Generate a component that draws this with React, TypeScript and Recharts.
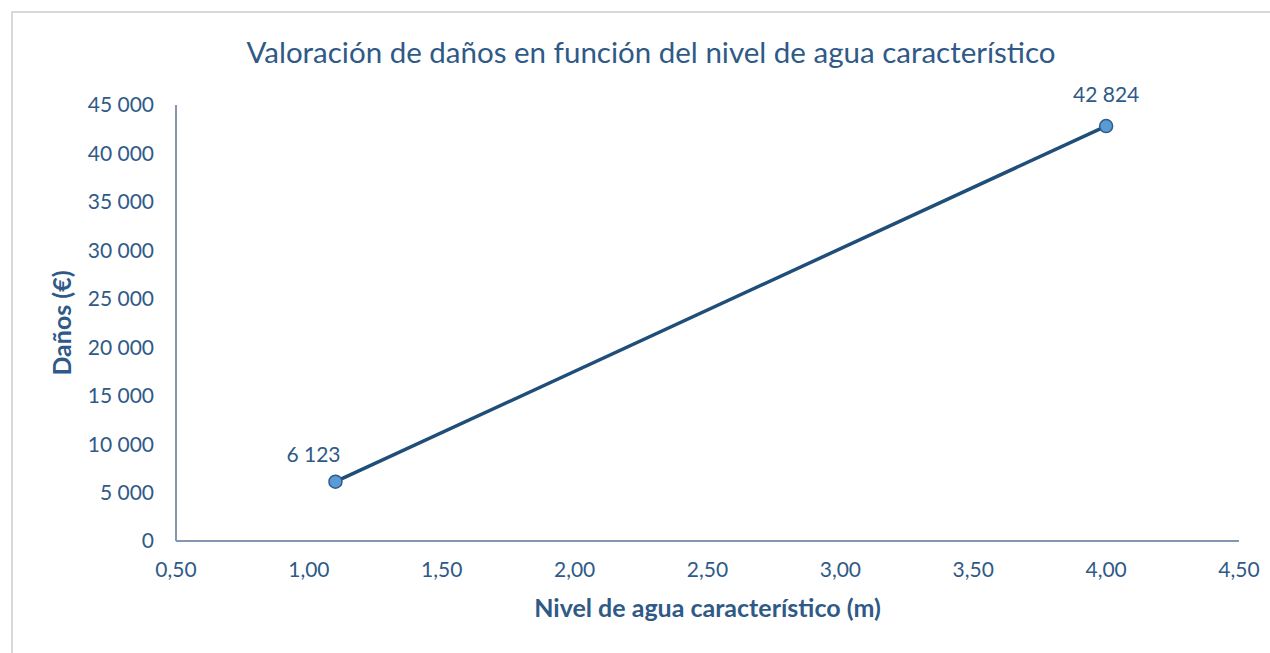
import { LineChart, Line, XAxis, YAxis, LabelList } from "recharts";

const levels = [1.1, 4.0];
const damages = [6123, 42824];
const xTicks = [0.5, 1, 1.5, 2, 2.5, 3, 3.5, 4, 4.5];
const yTicks = [0, 5000, 10000, 15000, 20000, 25000, 30000, 35000, 40000, 45000];

const TEXT = "#2F5A87";
const AXIS = "#8497B0";
const FONT = "Lato, 'Open Sans', sans-serif";

const data = levels.map((x, i) => ({ x, y: damages[i] }));

const fmtThousands = (v: number) => String(Math.round(v)).replace(/\B(?=(\d{3})+(?!\d))/g, " ");
const fmtX = (v: number) => v.toFixed(2).replace(".", ",");

// Excel nudged the first label to the left of its marker
const labelDx = [-22, 0];
const labelDy = [-28, -33];

function PointLabel(props: any) {
  const { x, y, value, index } = props;
  return (
    <text
      x={x + (labelDx[index] || 0)}
      y={y + (labelDy[index] || -30)}
      textAnchor="middle"
      dominantBaseline="central"
      fill={TEXT}
      fontSize={21}
      fontFamily={FONT}
    >
      {fmtThousands(value)}
    </text>
  );
}

export default function App() {
  return (
    <div style={{ position: "absolute", left: 0, top: 0, width: 1270, height: 653, background: "#fff", overflow: "hidden" }}>
      <div
        style={{
          position: "absolute",
          left: 11,
          top: 11,
          width: 1300,
          height: 700,
          border: "2px solid #D9D9D9",
        }}
      />
      <div
        style={{
          position: "absolute",
          left: 0,
          width: 1302,
          top: 34,
          textAlign: "center",
          fontFamily: FONT,
          fontSize: 29.5,
          color: TEXT,
          whiteSpace: "nowrap",
        }}
      >
        Valoración de daños en función del nivel de agua característico
      </div>
      <div style={{ position: "absolute", left: 0, top: 0 }}>
        <LineChart width={1270} height={653} data={data} margin={{ top: 105, right: 31, left: 0, bottom: 0 }}>
          <XAxis
            dataKey="x"
            type="number"
            domain={[0.5, 4.5]}
            ticks={xTicks}
            tickFormatter={fmtX}
            tickLine={false}
            tickSize={0}
            tickMargin={21}
            height={112}
            stroke={AXIS}
            strokeWidth={2}
            tick={{ fill: TEXT, fontSize: 21, fontFamily: FONT }}
            interval={0}
            label={{
              value: "Nivel de agua característico (m)",
              position: "insideTop",
              offset: 58,
              fill: TEXT,
              fontSize: 25,
              fontWeight: 700,
              fontFamily: FONT,
            }}
          />
          <YAxis
            dataKey="y"
            type="number"
            domain={[0, 45000]}
            ticks={yTicks}
            tickFormatter={fmtThousands}
            tickLine={false}
            tickSize={0}
            tickMargin={22}
            width={176}
            stroke={AXIS}
            strokeWidth={2}
            tick={{ fill: TEXT, fontSize: 21, fontFamily: FONT }}
            interval={0}
            label={{
              value: "Daños (€)",
              angle: -90,
              position: "insideLeft",
              offset: 62,
              style: { textAnchor: "middle" },
              fill: TEXT,
              fontSize: 25,
              fontWeight: 700,
              fontFamily: FONT,
            }}
          />
          <Line
            dataKey="y"
            stroke="#1F4E79"
            strokeWidth={3.5}
            isAnimationActive={false}
            dot={{ r: 6.5, fill: "#5B9BD5", stroke: "#2E5C8A", strokeWidth: 1.5 }}
            activeDot={false}
          >
            <LabelList dataKey="y" content={<PointLabel />} />
          </Line>
        </LineChart>
      </div>
    </div>
  );
}
